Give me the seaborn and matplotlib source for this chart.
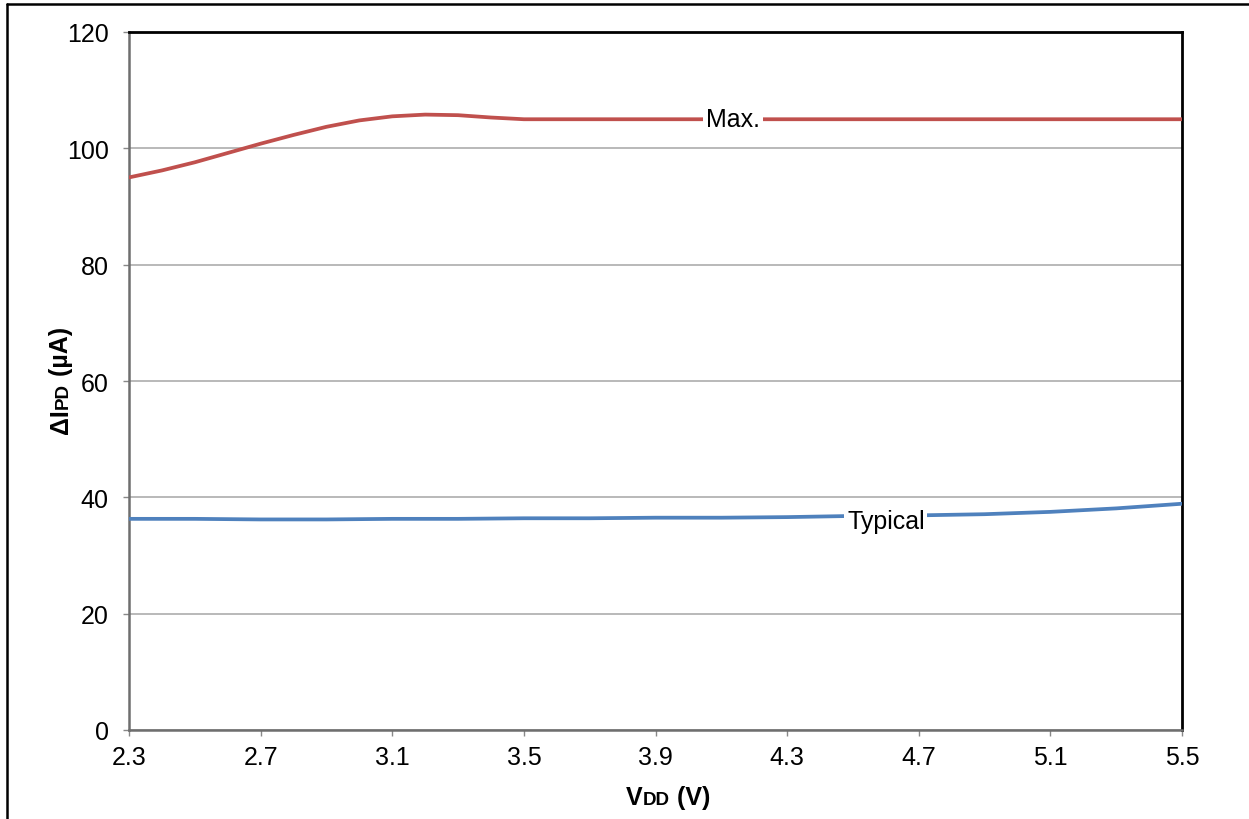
import numpy as np
import pandas as pd
import matplotlib
matplotlib.use("Agg")
import matplotlib.pyplot as plt
from matplotlib.lines import Line2D
import seaborn as sns

# Max. curve
max_vdd = [2.3, 2.4, 2.5, 2.6, 2.7, 2.8, 2.9, 3.0, 3.1, 3.2, 3.3, 3.4, 3.5,
           3.9, 4.3, 4.7, 5.1, 5.5]
max_ipd = [95.0, 96.2, 97.6, 99.2, 100.8, 102.3, 103.7, 104.8, 105.5, 105.8,
           105.7, 105.3, 105.0, 105.0, 105.0, 105.0, 105.0, 105.0]

# Typical curve
typ_vdd = [2.3, 2.5, 2.7, 2.9, 3.1, 3.3, 3.5, 3.7, 3.9, 4.1, 4.3, 4.5, 4.7,
           4.9, 5.1, 5.3, 5.5]
typ_ipd = [36.3, 36.3, 36.2, 36.2, 36.3, 36.3, 36.4, 36.4, 36.5, 36.5, 36.6,
           36.8, 36.9, 37.1, 37.5, 38.1, 38.9]

x_ticks = [2.3, 2.7, 3.1, 3.5, 3.9, 4.3, 4.7, 5.1, 5.5]
y_ticks = [0, 20, 40, 60, 80, 100, 120]

sns.set_theme(style="white")
plt.rcParams["font.family"] = ["Liberation Sans", "DejaVu Sans"]
plt.rcParams["text.color"] = "black"

W, H = 1249, 820
fig = plt.figure(figsize=(W / 100, H / 100), dpi=100)
ax = fig.add_axes([129 / W, 1 - 731 / H, (1182 - 129) / W, (731 - 33) / H])

df_max = pd.DataFrame({"vdd": max_vdd, "ipd": max_ipd})
df_typ = pd.DataFrame({"vdd": typ_vdd, "ipd": typ_ipd})
sns.lineplot(data=df_max, x="vdd", y="ipd", ax=ax, color="#C0504D", lw=2.7, zorder=3)
sns.lineplot(data=df_typ, x="vdd", y="ipd", ax=ax, color="#4F81BD", lw=2.7, zorder=3)

ax.set_xlim(2.3, 5.5)
ax.set_ylim(0, 120)
ax.set_xticks(x_ticks)
ax.set_xticklabels([f"{v:.1f}" for v in x_ticks])
ax.set_yticks(y_ticks)
ax.yaxis.grid(True, color="#a6a6a6", lw=1.1)
ax.xaxis.grid(False)
ax.set_axisbelow(True)
ax.set_xlabel("")
ax.set_ylabel("")

ax.tick_params(axis="both", which="major", labelsize=18, colors="#888888",
               labelcolor="black", length=4.5, width=1.0, direction="out")
ax.tick_params(axis="x", pad=6, bottom=True)
ax.tick_params(axis="y", pad=10, left=True)

for side in ["left", "bottom"]:
    ax.spines[side].set_color("#6e6e6e")
    ax.spines[side].set_linewidth(1.8)
for side in ["top", "right"]:
    ax.spines[side].set_color("black")
    ax.spines[side].set_linewidth(2.0)

# inline series labels
box = dict(facecolor="white", edgecolor="none", pad=2)
ax.text(4.136, 105, "Max.", fontsize=18, color="black", ha="center", va="center",
        bbox=box, zorder=4)
ax.text(4.60, 35.9, "Typical", fontsize=18, color="black", ha="center", va="center",
        bbox=box, zorder=4)

# axis titles with small-caps style subscripts
renderer = fig.canvas.get_renderer()


def place_pieces(pieces, x0, y0, rotation):
    # pieces: list of (text, size); placed one after another along baseline
    x, y = x0, y0
    for txt, size in pieces:
        t = fig.text(x / W, 1 - y / H, txt, fontsize=size, fontweight="bold",
                     color="black", rotation=rotation, rotation_mode="anchor",
                     ha="left", va="baseline")
        bb = t.get_window_extent(renderer)
        if rotation == 0:
            x += bb.width
        else:
            y -= bb.height


place_pieces([("V", 18), ("DD", 13.5), (" (V)", 18)], 626, 805, 0)
place_pieces([("ΔI", 18), ("PD", 13.5), (" (µA)", 18)], 68, 434, 90)

# outer frame
fig.add_artist(Line2D([7 / W, 1], [1 - 5 / H, 1 - 5 / H], color="black", lw=1.8))
fig.add_artist(Line2D([7 / W, 7 / W], [0, 1 - 5 / H], color="black", lw=1.8))

fig.savefig("out.png", dpi=100, facecolor="white")
